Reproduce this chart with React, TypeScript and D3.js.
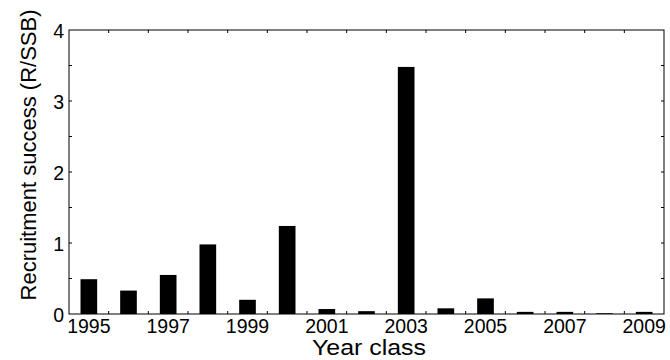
import React from "react";
import * as d3 from "d3";

const years = [1995, 1996, 1997, 1998, 1999, 2000, 2001, 2002, 2003, 2004, 2005, 2006, 2007, 2008, 2009];
const recruitment = [0.49, 0.33, 0.55, 0.98, 0.2, 1.24, 0.07, 0.04, 3.48, 0.08, 0.22, 0.03, 0.03, 0.01, 0.03];
const xTickLabels = [1995, 1997, 1999, 2001, 2003, 2005, 2007, 2009];
const yTickLabels = [0, 1, 2, 3, 4];
const yMinorTicks = [0.5, 1, 1.5, 2, 2.5, 3, 3.5];
const xMinorTicks = [1995.5, 1996.5, 1997.5, 1998.5, 1999.5, 2000.5, 2001.5, 2002.5, 2003.5, 2004.5, 2005.5, 2006.5, 2007.5, 2008.5];

const W = 670;
const H = 360;
const left = 69;
const right = 664;
const top = 30;
const bottom = 314;
const font = "'Liberation Sans', Arial, Helvetica, sans-serif";

export default function App() {
  const x = d3.scaleLinear().domain([1994.5, 2009.5]).range([left, right]);
  const y = d3.scaleLinear().domain([0, 4]).range([bottom, top]);
  const barW = x(1994.5 + 0.42) - x(1994.5);
  const tl = 3;
  return (
    <svg width={W} height={H} style={{ position: "absolute", left: 0, top: 0, background: "#fff" }}>
      <rect x={0} y={0} width={W} height={H} fill="#fff" />
      {years.map((yr, i) => (
        <rect key={yr} x={x(yr) - barW / 2} y={y(recruitment[i])} width={barW} height={y(0) - y(recruitment[i])} fill="#000" />
      ))}
      <rect x={left} y={top} width={right - left} height={bottom - top} fill="none" stroke="#000" strokeWidth={1} />
      {xMinorTicks.map((t) => (
        <g key={"xt" + t}>
          <line x1={x(t)} x2={x(t)} y1={bottom} y2={bottom - tl} stroke="#000" />
          <line x1={x(t)} x2={x(t)} y1={top} y2={top + tl} stroke="#000" />
        </g>
      ))}
      {yMinorTicks.map((t) => (
        <g key={"yt" + t}>
          <line x1={left} x2={left + tl} y1={y(t)} y2={y(t)} stroke="#000" />
          <line x1={right} x2={right - tl} y1={y(t)} y2={y(t)} stroke="#000" />
        </g>
      ))}
      {xTickLabels.map((t) => (
        <text key={"xl" + t} x={x(t)} y={333} textAnchor="middle" fontFamily={font} fontSize={19.5} fill="#000">
          {t}
        </text>
      ))}
      {yTickLabels.map((t) => (
        <text key={"yl" + t} x={64} y={y(t) + 8} textAnchor="end" fontFamily={font} fontSize={19.5} fill="#000">
          {t}
        </text>
      ))}
      <text x={369} y={355} textAnchor="middle" fontFamily={font} fontSize={22.5} fill="#000" textLength={114} lengthAdjust="spacingAndGlyphs">
        Year class
      </text>
      <text
        transform={`translate(36,155) rotate(-90)`}
        textAnchor="middle"
        fontFamily={font}
        fontSize={22}
        fill="#000"
      >
        Recruitment success (R/SSB)
      </text>
    </svg>
  );
}
